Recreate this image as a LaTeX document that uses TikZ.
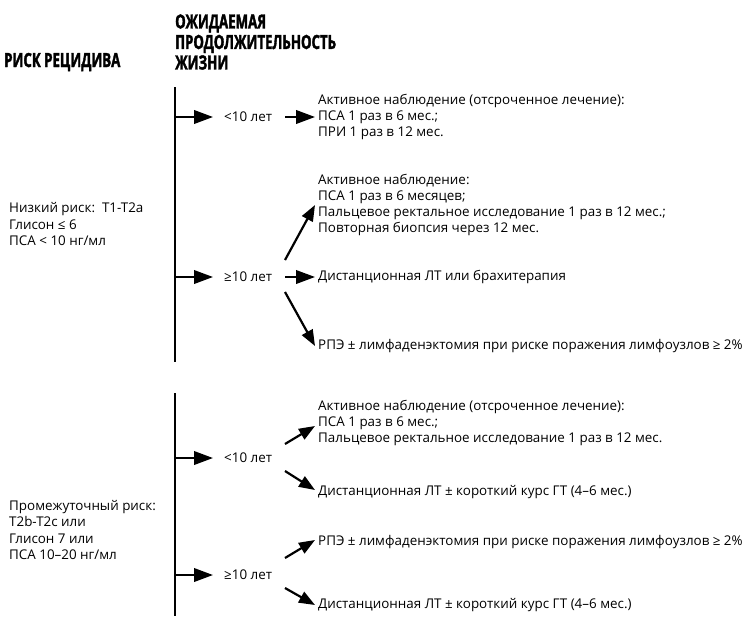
\documentclass[tikz,border=0pt]{standalone}
\usepackage{fontspec}
\setmainfont{Open Sans}
\newfontfamily\headfont[FakeStretch=0.68,FakeBold=1.8]{Open Sans Bold}
\usetikzlibrary{arrows.meta}
\begin{document}
\begin{tikzpicture}[x=1pt,y=-1pt,
  txt/.style={inner sep=0pt,anchor=west,align=left,font=\fontsize{13.4}{16.2}\selectfont},
  head/.style={inner sep=0pt,anchor=west,align=left,font=\headfont\fontsize{19.5}{20.5}\selectfont},
  vline/.style={line width=2.6pt},
  harrow/.style={line width=2.2pt,-{Triangle[length=19pt,width=13.5pt]}},
  darrow/.style={line width=2.2pt,-{Triangle[length=16pt,width=12pt]}}]
\useasboundingbox (0,0) rectangle (746,616);
% headers
\node[head] (hrisk) at (4,62) {РИСК РЕЦИДИВА};
\node[head] (hlife) at (175,42) {ОЖИДАЕМАЯ\\ПРОДОЛЖИТЕЛЬНОСТЬ\\ЖИЗНИ};
% section 1
\coordinate (l1t) at (175,87);
\coordinate (l1b) at (175,362);
\draw[vline] (l1t) -- (l1b);
\node[txt] (low) at (9,224) {Низкий риск:\ \ T1-T2a\\Глисон ≤ 6\\ПСА < 10 нг/мл};
\node[txt] (lt1) at (224,117) {<10 лет};
\node[txt] (lt2) at (224,277) {≥10 лет};
\coordinate (s1) at (175,117);
\coordinate (s2) at (175,277);
\draw[harrow] (s1) -- ([xshift=-11pt]lt1.west);
\draw[harrow] (s2) -- ([xshift=-11pt]lt2.west);
\node[txt] (b1) at (318,117) {Активное наблюдение (отсроченное лечение):\\ПСА 1 раз в 6 мес.;\\ПРИ 1 раз в 12 мес.};
\node[txt] (b2) at (318,205) {Активное наблюдение:\\ПСА 1 раз в 6 месяцев;\\Пальцевое ректальное исследование 1 раз в 12 мес.;\\Повторная биопсия через 12 мес.};
\node[txt] (b3) at (318,277) {Дистанционная ЛТ или брахитерапия};
\node[txt] (b4) at (318,346) {РПЭ ± лимфаденэктомия при риске поражения лимфоузлов ≥ 2\%};
\coordinate (a1s) at (285,117); \coordinate (a1e) at (315,117);
\draw[harrow] (a1s) -- (a1e);
\coordinate (a2s) at (285,277); \coordinate (a2e) at (315,277);
\draw[harrow] (a2s) -- (a2e);
\coordinate (a3s) at (285,260); \coordinate (a3e) at (315,205);
\draw[darrow] (a3s) -- (a3e);
\coordinate (a4s) at (285,292); \coordinate (a4e) at (315,346);
\draw[darrow] (a4s) -- (a4e);
% section 2
\coordinate (l2t) at (175,393);
\coordinate (l2b) at (175,616);
\draw[vline] (l2t) -- (l2b);
\node[txt] (mid) at (9,530) {Промежуточный риск:\\T2b-T2c или\\Глисон 7 или\\ПСА 10–20 нг/мл};
\node[txt] (lt3) at (224,458) {<10 лет};
\node[txt] (lt4) at (224,575) {≥10 лет};
\coordinate (s3) at (175,458);
\coordinate (s4) at (175,575);
\draw[harrow] (s3) -- ([xshift=-11pt]lt3.west);
\draw[harrow] (s4) -- ([xshift=-11pt]lt4.west);
\node[txt] (b5) at (318,423) {Активное наблюдение (отсроченное лечение):\\ПСА 1 раз в 6 мес.;\\Пальцевое ректальное исследование 1 раз в 12 мес.};
\node[txt] (b6) at (318,492) {Дистанционная ЛТ ± короткий курс ГТ (4–6 мес.)};
\node[txt] (b7) at (318,542) {РПЭ ± лимфаденэктомия при риске поражения лимфоузлов ≥ 2\%};
\node[txt] (b8) at (318,605) {Дистанционная ЛТ ± короткий курс ГТ (4–6 мес.)};
\coordinate (a5s) at (285,444); \coordinate (a5e) at (315,426);
\draw[darrow] (a5s) -- (a5e);
\coordinate (a6s) at (285,471); \coordinate (a6e) at (315,490);
\draw[darrow] (a6s) -- (a6e);
\coordinate (a7s) at (285,558); \coordinate (a7e) at (315,540);
\draw[darrow] (a7s) -- (a7e);
\coordinate (a8s) at (285,588); \coordinate (a8e) at (315,605);
\draw[darrow] (a8s) -- (a8e);
\end{tikzpicture}
\end{document}
